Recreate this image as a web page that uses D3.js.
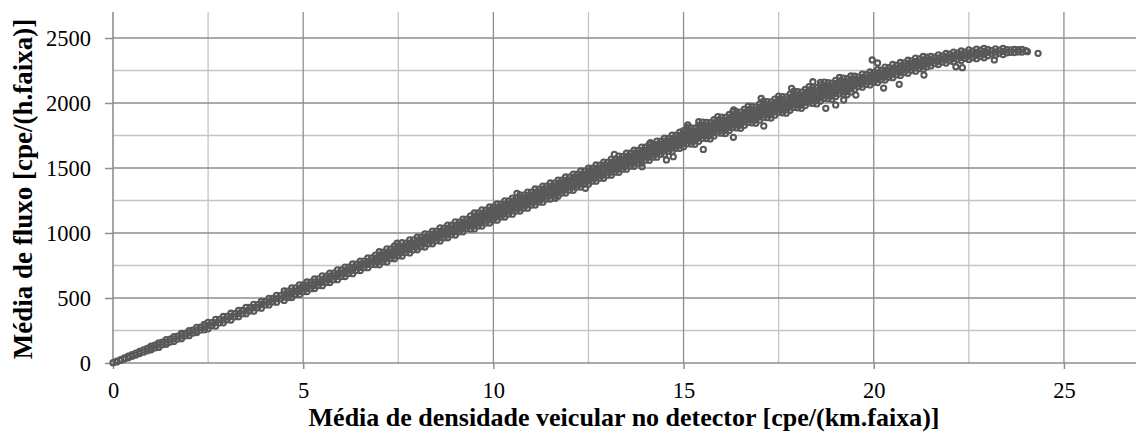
<!DOCTYPE html>
<html><head><meta charset="utf-8">
<script src="https://cdn.jsdelivr.net/npm/d3@7"></script>
<style>html,body{margin:0;padding:0;background:#fff;}svg{display:block;}</style>
</head><body><svg id="c" width="1136" height="444"></svg>
<script>
// Tick values / labels
const xTicks = [0, 5, 10, 15, 20, 25];
const yTicks = [0, 500, 1000, 1500, 2000, 2500];
const xMinorGrid = [2.5, 7.5, 12.5, 17.5, 22.5];
const yMinorGrid = [250, 750, 1250, 1750, 2250];
const xTitle = "Média de densidade veicular no detector [cpe/(km.faixa)]";
const yTitle = "Média de fluxo [cpe/(h.faixa)]";

// Data: each column = [density, flow, flow, ...]
const band0to2 = [[0.0,2],[0.1,8,15],[0.2,20,26],[0.3,30,39],[0.4,40,52],[0.5,51,64],[0.6,61,76],[0.7,73,89],[0.8,83,101],[0.9,94,113],
 [1.0,102,116,130],[1.1,116,137],[1.2,120,139,155],[1.3,140,160],[1.4,144,160,180],[1.5,161,183],[1.6,166,186,203],[1.7,184,206],[1.8,187,208,227],[1.9,209,228],[2.0,210,231,249],[2.1,230,252],[2.2,234,252,274],[2.3,253,275],[2.4,255,277,296]];
const band2to4 = [[2.5,263,288,313],[2.6,286,311],[2.7,284,311,336],[2.8,309,335],[2.9,309,332,358],[3.0,332,358],[3.1,330,357,383],[3.2,355,380],[3.3,356,380,404],[3.4,378,404],[3.5,378,401,428],[3.6,401,427],[3.7,399,426,451],[3.8,425,449],[3.9,422,450,473],[4.0,447,473],[4.1,447,470,497],[4.2,470,496],[4.3,468,495,520],[4.4,494,518]];
const band4to7 = [[4.5,481,506,530,554],[4.6,503,530,553],[4.7,504,528,553,578],[4.8,527,551,578],[4.9,526,552,575,601],[5.0,549,576,600],[5.1,550,574,599,623],[5.2,572,599,622],[5.3,573,597,622,646],[5.4,596,620,647],[5.5,595,621,644,670],[5.6,619,645,668],[5.7,619,643,668,692],[5.8,641,668,691],[5.9,641,667,690,716],[6.0,665,689,716],[6.1,665,689,714,738],[6.2,688,714,737],[6.3,687,713,736,762],[6.4,711,737,760],[6.5,711,735,760,784],[6.6,733,760,784],[6.7,733,759,782,808],[6.8,757,781,808],[6.9,757,781,806,830]];
const band7to9 = [[7.0,755,781,805,829,856],[7.1,780,804,829,853],[7.2,777,804,828,853,878],[7.3,803,827,851,877],[7.4,802,825,852,876,900],[7.5,825,851,874,900],[7.6,823,849,875,898,925],[7.7,849,873,898,922],[7.8,847,873,896,922,947],[7.9,871,897,920,946],[8.0,871,894,921,945,969],[8.1,895,919,944,968],[8.2,892,918,944,967,994],[8.3,917,943,966,992],[8.4,917,940,967,991,1015],[8.5,941,965,990,1014],[8.6,938,964,990,1013,1040],[8.7,963,989,1012,1038],[8.8,963,986,1013,1037,1061],[8.9,987,1011,1036,1060],[9.0,984,1010,1036,1059,1086],[9.1,1009,1035,1058,1084],[9.2,1009,1032,1059,1083,1107],[9.3,1033,1057,1082,1106],[9.4,1030,1056,1082,1105,1132]];
const band9to12 = [[9.5,1031,1055,1081,1104,1130,1154],[9.6,1054,1080,1103,1129,1154],[9.7,1053,1079,1103,1128,1152,1178],[9.8,1077,1101,1128,1152,1176],[9.9,1077,1101,1126,1150,1176,1200],[10.0,1100,1126,1149,1175,1201],[10.1,1099,1124,1150,1173,1199,1223],[10.2,1123,1147,1174,1198,1222],[10.3,1123,1147,1172,1197,1221,1247],[10.4,1146,1171,1195,1221,1246],[10.5,1145,1170,1196,1219,1245,1269],[10.6,1169,1193,1220,1244,1268],[10.7,1169,1193,1218,1243,1267,1293],[10.8,1192,1217,1241,1267,1292],[10.9,1191,1216,1242,1265,1291,1315],[11.0,1215,1239,1266,1290,1314],[11.1,1215,1239,1264,1289,1313,1339],[11.2,1238,1263,1287,1313,1338],[11.3,1237,1262,1288,1311,1337,1361],[11.4,1261,1285,1312,1336,1360],[11.5,1261,1285,1310,1335,1359,1385],[11.6,1284,1309,1333,1359,1384],[11.7,1283,1308,1334,1357,1383,1407],[11.8,1307,1331,1358,1382,1406],[11.9,1307,1331,1356,1381,1405,1431]];
const band12to15 = [[12.0,1330,1355,1379,1405,1430],[12.1,1329,1354,1380,1403,1429,1453],[12.2,1353,1377,1404,1428,1452],[12.3,1353,1377,1402,1427,1451,1477],[12.4,1376,1401,1425,1451,1476],[12.5,1375,1400,1426,1449,1475,1499],[12.6,1399,1423,1450,1474,1498],[12.7,1399,1423,1448,1473,1497,1523],[12.8,1422,1447,1471,1497,1522],[12.9,1421,1446,1472,1495,1521,1545],[13.0,1445,1469,1496,1520,1544],[13.1,1445,1469,1494,1519,1543,1569],[13.2,1468,1493,1517,1543,1568],[13.3,1467,1492,1518,1541,1567,1591],[13.4,1491,1515,1542,1566,1590],[13.5,1491,1515,1540,1565,1589,1615],[13.6,1514,1539,1563,1589,1614],[13.7,1513,1538,1564,1587,1613,1637],[13.8,1537,1561,1588,1612,1636],[13.9,1537,1561,1586,1611,1635,1661],[14.0,1560,1585,1609,1635,1660],[14.1,1559,1584,1610,1633,1659,1683],[14.2,1583,1607,1634,1658,1682],[14.3,1583,1607,1632,1657,1681,1707],[14.4,1606,1631,1655,1681,1706],[14.5,1605,1630,1656,1679,1705,1729],[14.6,1629,1653,1680,1704,1728],[14.7,1629,1653,1678,1703,1727,1753],[14.8,1652,1677,1701,1727,1752],[14.9,1651,1676,1702,1725,1751,1775]];
const band15to17 = [[15.0,1663,1688,1713,1737,1762,1787],[15.1,1686,1711,1735,1761,1786,1810],[15.2,1684,1709,1734,1758,1783,1808],[15.3,1682,1707,1732,1756,1782,1807],[15.4,1705,1730,1755,1779,1804,1829],[15.5,1728,1752,1779,1803,1827,1853],[15.6,1726,1751,1776,1800,1825,1850],[15.7,1724,1749,1774,1800,1824,1849],[15.8,1747,1772,1797,1821,1846,1871],[15.9,1770,1794,1821,1845,1869,1895],[16.0,1768,1793,1818,1842,1867,1892],[16.1,1765,1790,1815,1841,1865,1890],[16.2,1788,1813,1838,1862,1887,1912],[16.3,1810,1834,1861,1885,1909,1935],[16.4,1808,1833,1858,1882,1907,1932],[16.5,1805,1830,1855,1881,1905,1930],[16.6,1828,1853,1878,1902,1927,1952],[16.7,1850,1874,1901,1925,1949,1975],[16.8,1848,1873,1898,1922,1947,1972],[16.9,1845,1870,1895,1921,1945,1970]];
const band17to19 = [[17.0,1868,1893,1918,1942,1967,1992],[17.1,1890,1914,1941,1965,1989,2015],[17.2,1887,1912,1937,1961,1986,2011],[17.3,1884,1909,1934,1960,1984,2009],[17.4,1906,1931,1956,1980,2005,2030],[17.5,1928,1952,1979,2003,2027,2053],[17.6,1925,1950,1975,1999,2024,2049],[17.7,1922,1947,1972,1998,2022,2047],[17.8,1944,1969,1994,2018,2043,2068],[17.9,1966,1990,2017,2041,2065,2091],[18.0,1963,1988,2013,2037,2062,2087],[18.1,1959,1984,2009,2035,2059,2084],[18.2,1980,2005,2030,2054,2079,2104],[18.3,2001,2025,2052,2076,2100,2126],[18.4,1997,2022,2047,2071,2096,2121],[18.5,1993,2018,2043,2069,2093,2118],[18.6,2015,2040,2065,2089,2114,2139],[18.7,2036,2060,2087,2111,2135,2161],[18.8,2032,2057,2082,2106,2131,2156],[18.9,2028,2053,2078,2104,2128,2153],[19.0,2050,2075,2100,2124,2149,2174],[19.1,2071,2095,2122,2146,2170,2196],[19.2,2067,2092,2117,2141,2166,2191],[19.3,2063,2088,2113,2139,2163,2188],[19.4,2084,2109,2134,2158,2183,2208]];
const band19to21 = [[19.5,2105,2131,2155,2179,2206],[19.6,2126,2150,2175,2199],[19.7,2122,2146,2173,2196,2222],[19.8,2143,2169,2192,2218],[19.9,2139,2165,2188,2214,2239],[20.0,2160,2184,2210,2233],[20.1,2157,2182,2208,2231,2257],[20.2,2179,2203,2228,2252],[20.3,2176,2200,2227,2250,2276],[20.4,2198,2222,2247,2271],[20.5,2195,2221,2245,2269,2296],[20.6,2217,2241,2266,2290],[20.7,2212,2236,2263,2286,2312],[20.8,2234,2259,2283,2308],[20.9,2229,2255,2278,2304,2329],[21.0,2251,2275,2300,2324],[21.1,2245,2270,2296,2319,2345],[21.2,2265,2290,2314,2339],[21.3,2258,2283,2309,2332,2358],[21.4,2278,2303,2327,2352]];
const band21to24 = [[21.5,2285,2310,2334,2359],[21.6,2303,2329,2352],[21.7,2296,2321,2345,2370],[21.8,2314,2340,2363],[21.9,2307,2332,2356,2381],[22.0,2325,2349,2375],[22.1,2317,2342,2366,2391],[22.2,2334,2360,2383],[22.3,2326,2351,2375,2400],[22.4,2343,2369,2392],[22.5,2335,2360,2384,2409],[22.6,2350,2376,2399],[22.7,2341,2366,2390,2415],[22.8,2357,2382,2406],[22.9,2348,2373,2397,2420],[23.0,2363,2389,2412],[23.1,2378,2402],[23.2,2368,2392,2417],[23.3,2382,2406],[23.4,2373,2397,2420],[23.5,2386,2410],[23.6,2390,2409],[23.7,2388,2412],[23.8,2393,2410],[23.9,2392,2413],[24.0,2403]];
const outliers = [[7.47,921],[10.62,1305],[11.63,1267],[12.42,1344],[13.18,1605],[13.91,1510],[14.13,1695],[14.55,1562],[14.73,1587],[15.11,1831],[15.4,1856],[15.52,1643],[16.31,1736],[16.32,1946],[17.04,2036],[17.11,1823],[17.84,2113],[18.4,2164],[18.6,2159],[18.74,1959],[19.0,1985],[19.21,2023],[19.53,2061],[19.96,2331],[20.1,2308],[20.26,2115],[20.67,2144],[21.32,2215],[22.16,2279],[22.33,2272],[23.17,2331],[24.04,2395],[24.32,2382]];

const points = [];
[band0to2, band2to4, band4to7, band7to9, band9to12, band12to15, band15to17, band17to19, band19to21, band21to24, outliers]
  .forEach(seg => seg.forEach(col => {
    for (let i = 1; i < col.length; i++) points.push([col[0], col[i]]);
  }));

const svg = d3.select("#c");
const x = d3.scaleLinear().domain([0, 27]).range([113, 1140]);
const y = d3.scaleLinear().domain([0, 2700]).range([363, 12]);
const FONT = "Liberation Serif, Times New Roman, serif";
const MAJOR = "#8e8e8e", MINOR = "#c4c4c4";

// minor grid
svg.append("g").selectAll("line").data(xMinorGrid).join("line")
  .attr("x1", d => x(d)).attr("x2", d => x(d)).attr("y1", y(2700)).attr("y2", y(0))
  .attr("stroke", MINOR).attr("stroke-width", 1.3);
svg.append("g").selectAll("line").data(yMinorGrid).join("line")
  .attr("x1", x(0)).attr("x2", x(27)).attr("y1", d => y(d)).attr("y2", d => y(d))
  .attr("stroke", MINOR).attr("stroke-width", 1.3);
// major grid
svg.append("g").selectAll("line").data(xTicks.filter(d => d > 0)).join("line")
  .attr("x1", d => x(d)).attr("x2", d => x(d)).attr("y1", y(2700)).attr("y2", y(0))
  .attr("stroke", MAJOR).attr("stroke-width", 1.3);
svg.append("g").selectAll("line").data(yTicks.filter(d => d > 0)).join("line")
  .attr("x1", x(0)).attr("x2", x(27)).attr("y1", d => y(d)).attr("y2", d => y(d))
  .attr("stroke", MAJOR).attr("stroke-width", 1.3);

// axes (ticks + labels)
const xAxis = svg.append("g").attr("transform", `translate(0,${y(0)})`)
  .call(d3.axisBottom(x).tickValues(xTicks).tickSize(6).tickPadding(13).tickFormat(d3.format("d")));
const yAxis = svg.append("g").attr("transform", `translate(${x(0)},0)`)
  .call(d3.axisLeft(y).tickValues(yTicks).tickSize(8).tickPadding(14).tickFormat(d3.format("d")));
[xAxis, yAxis].forEach(g => {
  g.select(".domain").remove();
  g.selectAll(".tick line").attr("stroke", MAJOR).attr("stroke-width", 1.5);
  g.selectAll("text").attr("font-family", FONT).attr("font-size", 22.5).attr("fill", "#000");
});
yAxis.selectAll("text").attr("dy", "0.34em");
svg.append("line").attr("x1", x(0)).attr("x2", x(0)).attr("y1", y(2700)).attr("y2", y(0))
  .attr("stroke", MAJOR).attr("stroke-width", 1.6);
svg.append("line").attr("x1", x(0)).attr("x2", x(27)).attr("y1", y(0)).attr("y2", y(0))
  .attr("stroke", MAJOR).attr("stroke-width", 1.6);

// points
svg.append("g").selectAll("circle").data(points).join("circle")
  .attr("cx", d => x(d[0])).attr("cy", d => y(d[1])).attr("r", 2.6)
  .attr("fill", "none").attr("stroke", "#595959").attr("stroke-width", 2.1);

// titles
svg.append("text").attr("x", 624).attr("y", 426).attr("text-anchor", "middle")
  .attr("font-family", FONT).attr("font-weight", "bold").attr("font-size", 26).text(xTitle);
svg.append("text").attr("transform", "translate(32,189) rotate(-90)").attr("text-anchor", "middle")
  .attr("font-family", FONT).attr("font-weight", "bold").attr("font-size", 27).text(yTitle);
</script></body></html>
